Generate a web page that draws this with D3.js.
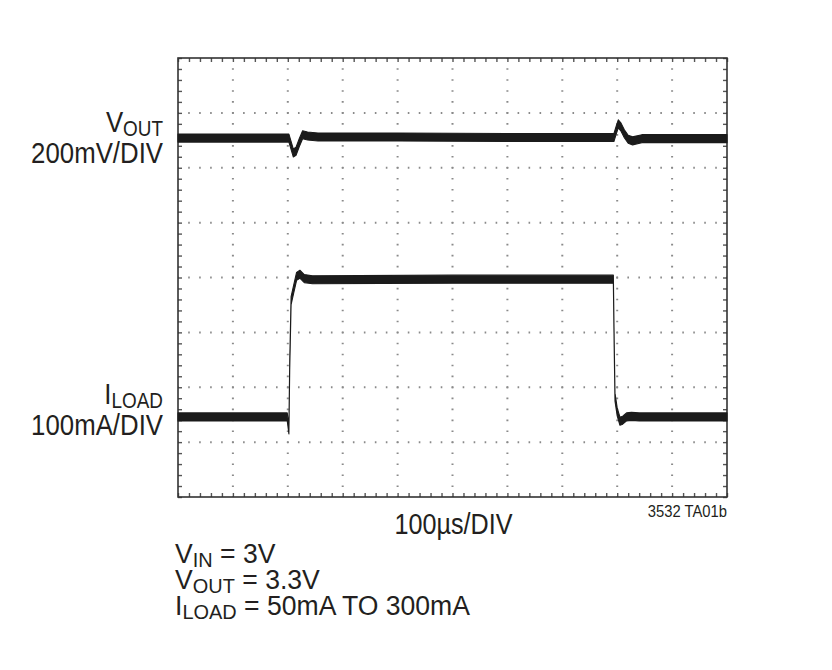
<!DOCTYPE html>
<html lang="en">
<head>
  <meta charset="utf-8" />
  <title>Load Step Transient</title>
  <script src="https://d3js.org/d3.v7.min.js"></script>
  <style>
    body{margin:0;background:#fff;}
    svg{display:block;}
    text{font-family:"Liberation Sans",Arial,sans-serif;fill:#231f20;}
    .frame{fill:none;stroke:#333;stroke-width:1.6;}
    .grid line{stroke:#8a8a8a;stroke-width:2;stroke-dasharray:1.6,9.38;stroke-dashoffset:0.8;}
    .tick-axis path{display:none;}
    .tick-axis line{stroke:#555;stroke-width:1.4;}
    .trace{fill:#1b1b1b;stroke:#1b1b1b;stroke-width:1.1;stroke-linejoin:round;}
  </style>
</head>
<body>
<svg id="chart" width="832" height="670"></svg>
<script>
// -------------- DATA (time in µs, level in divisions from screen centre) --------------
const vTime  =[0,202,205,210,215,221,227,236,255,400,600,794,798,802,807,813,820,828,845,1000];
const vLevel =[2.54,2.54,2.44,2.27,2.30,2.46,2.60,2.58,2.56,2.56,2.55,2.55,2.68,2.80,2.74,2.62,2.52,2.49,2.53,2.53];

const iTime  =[0,199,202,203.5,206,211,216,222,230,245,500,793,794.5,796,800,805,810,817,826,840,1000];
const iLevel =[-2.54,-2.54,-2.78,-1.60,-0.42,-0.20,0.02,0.06,-0.02,-0.04,-0.03,-0.03,-1.2,-2.18,-2.45,-2.62,-2.60,-2.54,-2.53,-2.54,-2.54];

const xDivs=d3.range(0,1001,100);   // 100µs/DIV, 10 divisions
const yDivs=d3.range(-4,5,1);       // 8 divisions
const minorX=d3.range(0,1001,20);
const minorY=d3.range(-4,4.01,0.2);

const channelLabels=[
  {main:'V',sub:'OUT',scale:'200mV/DIV',y:132},
  {main:'I',sub:'LOAD',scale:'100mA/DIV',y:404}
];
const timeLabel='100µs/DIV';
const figId='3532 TA01b';
const notes=[
  {main:'V',sub:'IN',rest:' = 3V'},
  {main:'V',sub:'OUT',rest:' = 3.3V'},
  {main:'I',sub:'LOAD',rest:' = 50mA TO 300mA'}
];

// -------------- LAYOUT --------------
const L=178,R=727,T=58,B=497;
const x=d3.scaleLinear().domain([0,1000]).range([L,R]);
const y=d3.scaleLinear().domain([-4,4]).range([B,T]);
const svg=d3.select('#chart');

// grid (dotted, one dot per minor division)
const grid=svg.append('g').attr('class','grid');
grid.selectAll('.gx').data(xDivs.slice(1,-1)).enter().append('line')
  .attr('x1',d=>x(d)).attr('x2',d=>x(d)).attr('y1',T).attr('y2',B);
grid.selectAll('.gy').data(yDivs.slice(1,-1)).enter().append('line')
  .attr('y1',d=>y(d)).attr('y2',d=>y(d)).attr('x1',L).attr('x2',R);

// inner tick marks along frame
const fmt=()=> '';
svg.append('g').attr('class','tick-axis').attr('transform',`translate(0,${B})`)
  .call(d3.axisBottom(x).tickValues(minorX).tickSize(-4).tickFormat(fmt));
svg.append('g').attr('class','tick-axis').attr('transform',`translate(0,${T})`)
  .call(d3.axisTop(x).tickValues(minorX).tickSize(-4).tickFormat(fmt));
svg.append('g').attr('class','tick-axis').attr('transform',`translate(${L},0)`)
  .call(d3.axisLeft(y).tickValues(minorY).tickSize(-4).tickFormat(fmt));
svg.append('g').attr('class','tick-axis').attr('transform',`translate(${R},0)`)
  .call(d3.axisRight(y).tickValues(minorY).tickSize(-4).tickFormat(fmt));

svg.append('rect').attr('class','frame').attr('x',L).attr('y',T).attr('width',R-L).attr('height',B-T);

// traces drawn as a noise band of constant pixel thickness
const HALF=4;
const band=d3.area().x(d=>x(d[0])).y0(d=>y(d[1])+HALF).y1(d=>y(d[1])-HALF);
[[vTime,vLevel],[iTime,iLevel]].forEach(([t,v])=>{
  svg.append('path').attr('class','trace').attr('d',band(t.map((d,i)=>[d,v[i]])));
});

// -------------- TEXT (condensed look via horizontal scale) --------------
function label(ax,ay,sx,anchor,size){
  return svg.append('g').attr('transform',`translate(${ax},${ay}) scale(${sx},1)`)
    .append('text').attr('text-anchor',anchor).style('font-size',size+'px');
}

channelLabels.forEach(c=>{
  const t=label(163,c.y,0.86,'end',30);
  t.append('tspan').text(c.main);
  t.append('tspan').attr('dy',4).style('font-size','22px').text(c.sub);
  label(163,c.y+31,0.86,'end',30).text(c.scale);
});

label((L+R)/2+1,534,0.84,'middle',30).text(timeLabel);
label(R,517,0.87,'end',17).text(figId);

notes.forEach((n,i)=>{
  const t=label(175,563+i*26,0.95,'start',28);
  t.append('tspan').text(n.main);
  t.append('tspan').attr('dy',4).style('font-size','21px').text(n.sub);
  t.append('tspan').attr('dy',-4).text(n.rest);
});
</script>
</body>
</html>
